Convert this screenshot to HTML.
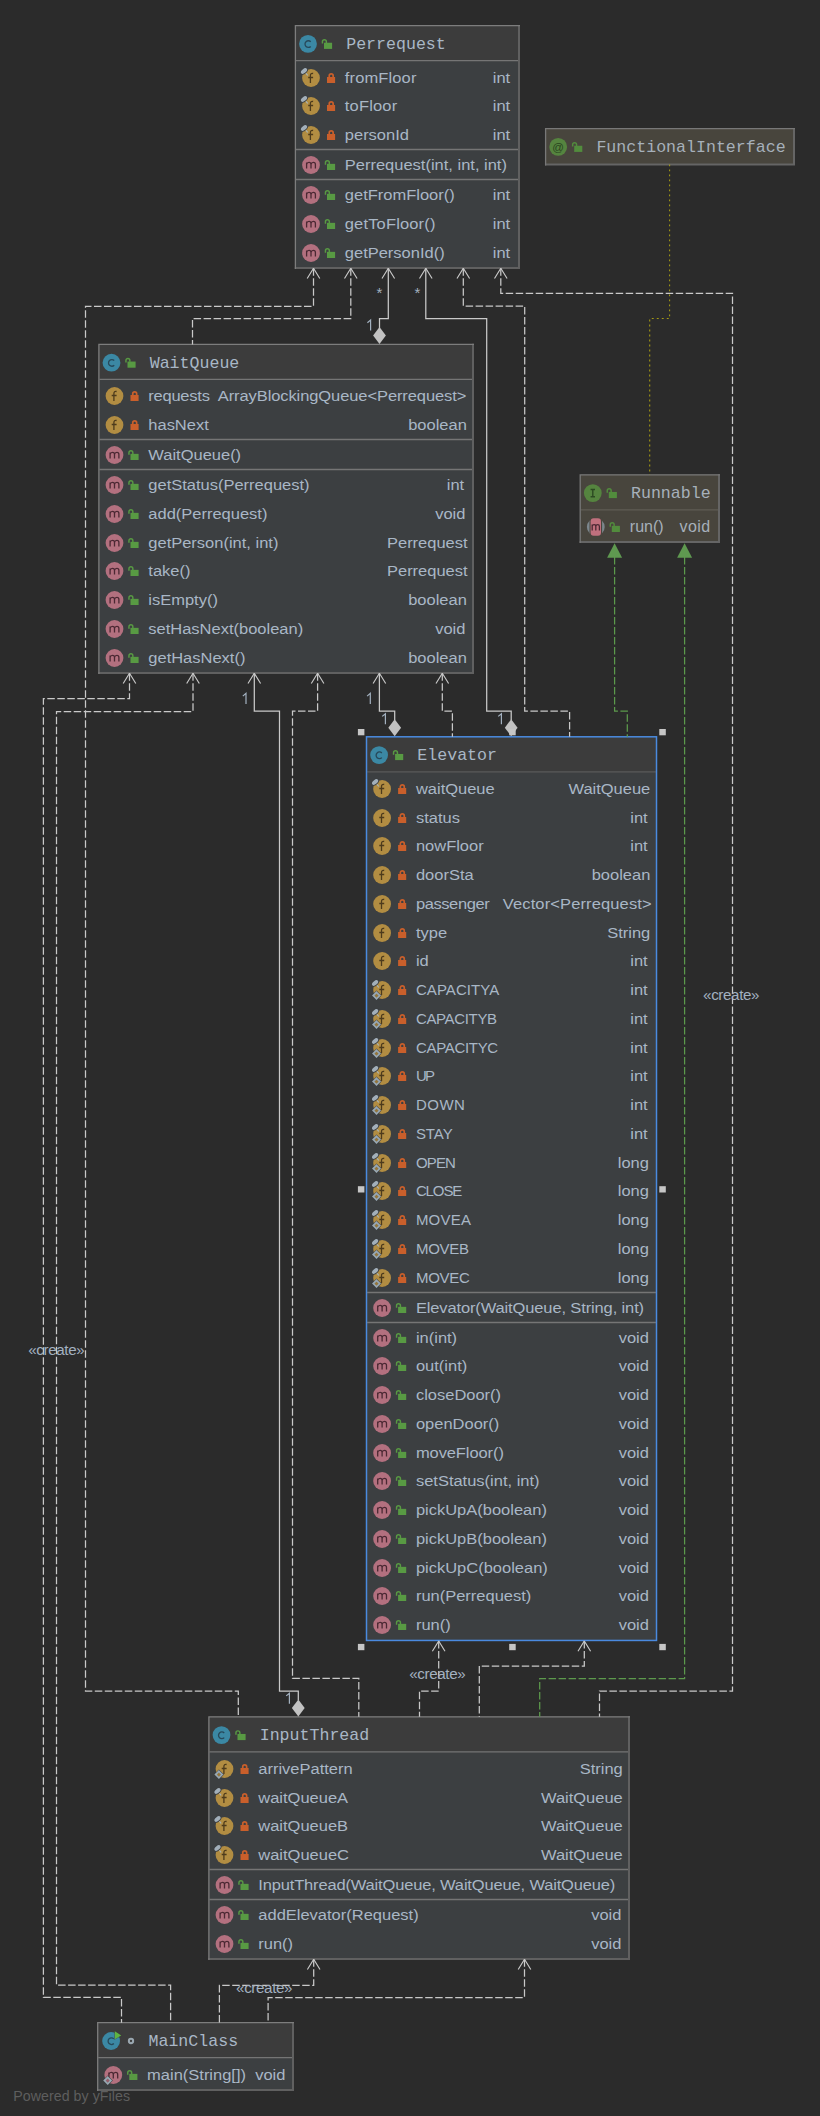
<!DOCTYPE html>
<html><head><meta charset="utf-8"><title>UML class diagram</title>
<style>
html,body{margin:0;padding:0;background:#2b2b2b;}
body{width:820px;height:2116px;overflow:hidden;font-family:"Liberation Sans",sans-serif;}
svg{display:block;}
text{white-space:pre;}
</style></head>
<body>
<svg width="820" height="2116" viewBox="0 0 820 2116">
<rect x="0" y="0" width="820" height="2116" fill="#2b2b2b"/>
<rect x="295.4" y="25.6" width="223.60" height="242.40" fill="#3c3f41"/>
<rect x="295.4" y="25.6" width="223.60" height="35" fill="#3c3c3c"/>
<line x1="296.0" x2="518.4" y1="60.60" y2="60.60" stroke="#757575" stroke-width="1.3"/>
<line x1="296.0" x2="518.4" y1="149.50" y2="149.50" stroke="#757575" stroke-width="1.3"/>
<line x1="296.0" x2="518.4" y1="179.50" y2="179.50" stroke="#757575" stroke-width="1.3"/>
<path d="M519.00 25.00 V268.00 H294.80" fill="none" stroke="#606060" stroke-width="2.0"/>
<path d="M295.40 269.00 V25.60 H520.00" fill="none" stroke="#7d7d7d" stroke-width="1.3"/>
<circle cx="308.0" cy="43.900000000000006" r="8.9" fill="#3b88a4"/>
<path d="M310.75 41.75 A3.35 3.35 0 1 0 310.75 46.45" fill="none" stroke="#27495a" stroke-width="1.3"/>
<rect x="324.00" y="42.75" width="8.1" height="6.15" fill="#589a43"/>
<path d="M322.45 43.60 V41.60 a1.95 1.95 0 0 1 3.9 0 V43.00" fill="none" stroke="#589a43" stroke-width="1.45"/>
<text x="346.20" y="49.00" font-family="Liberation Mono, monospace" font-size="16.6" fill="#a9b7c6" xml:space="preserve">Perrequest</text>
<circle cx="311.0" cy="78" r="8.9" fill="#b28d42"/>
<path d="M313.10 73.50 q-2.7 -0.7 -2.7 2.0 V82.90 M308.20 77.50 H313.10" fill="none" stroke="#4d3b1c" stroke-width="1.3"/>
<g transform="rotate(-40 304.00 71.00)"><ellipse cx="304.00" cy="71.00" rx="4.5" ry="2.9" fill="#3c3f41"/><ellipse cx="304.00" cy="71.00" rx="3.6" ry="2.0" fill="#a2afba"/><rect x="303.40" y="73.90" width="1.2" height="2.9" rx="0.5" fill="#a9b9c6" opacity="0.85"/></g>
<rect x="327.00" y="77.00" width="8.1" height="6.0" fill="#c95f2b"/>
<path d="M329.25 77.50 V75.75 a1.95 1.95 0 0 1 3.9 0 V77.50" fill="none" stroke="#c95f2b" stroke-width="1.7"/>
<text transform="translate(344.80 82.80) scale(1.1 1)" x="0" y="0" font-family="Liberation Sans, sans-serif" font-size="15" textLength="65.09" lengthAdjust="spacing" text-anchor="start" fill="#a9b7c6" >fromFloor</text>
<text transform="translate(510.20 82.80) scale(1.1 1)" x="0" y="0" font-family="Liberation Sans, sans-serif" font-size="15" letter-spacing="0" text-anchor="end" fill="#a9b7c6" >int</text>
<circle cx="311.0" cy="106" r="8.9" fill="#b28d42"/>
<path d="M313.10 101.50 q-2.7 -0.7 -2.7 2.0 V110.90 M308.20 105.50 H313.10" fill="none" stroke="#4d3b1c" stroke-width="1.3"/>
<g transform="rotate(-40 304.00 99.00)"><ellipse cx="304.00" cy="99.00" rx="4.5" ry="2.9" fill="#3c3f41"/><ellipse cx="304.00" cy="99.00" rx="3.6" ry="2.0" fill="#a2afba"/><rect x="303.40" y="101.90" width="1.2" height="2.9" rx="0.5" fill="#a9b9c6" opacity="0.85"/></g>
<rect x="327.00" y="105.00" width="8.1" height="6.0" fill="#c95f2b"/>
<path d="M329.25 105.50 V103.75 a1.95 1.95 0 0 1 3.9 0 V105.50" fill="none" stroke="#c95f2b" stroke-width="1.7"/>
<text transform="translate(344.80 110.80) scale(1.1 1)" x="0" y="0" font-family="Liberation Sans, sans-serif" font-size="15" textLength="47.64" lengthAdjust="spacing" text-anchor="start" fill="#a9b7c6" >toFloor</text>
<text transform="translate(510.20 110.80) scale(1.1 1)" x="0" y="0" font-family="Liberation Sans, sans-serif" font-size="15" letter-spacing="0" text-anchor="end" fill="#a9b7c6" >int</text>
<circle cx="311.0" cy="135" r="8.9" fill="#b28d42"/>
<path d="M313.10 130.50 q-2.7 -0.7 -2.7 2.0 V139.90 M308.20 134.50 H313.10" fill="none" stroke="#4d3b1c" stroke-width="1.3"/>
<g transform="rotate(-40 304.00 128.00)"><ellipse cx="304.00" cy="128.00" rx="4.5" ry="2.9" fill="#3c3f41"/><ellipse cx="304.00" cy="128.00" rx="3.6" ry="2.0" fill="#a2afba"/><rect x="303.40" y="130.90" width="1.2" height="2.9" rx="0.5" fill="#a9b9c6" opacity="0.85"/></g>
<rect x="327.00" y="134.00" width="8.1" height="6.0" fill="#c95f2b"/>
<path d="M329.25 134.50 V132.75 a1.95 1.95 0 0 1 3.9 0 V134.50" fill="none" stroke="#c95f2b" stroke-width="1.7"/>
<text transform="translate(344.80 139.80) scale(1.1 1)" x="0" y="0" font-family="Liberation Sans, sans-serif" font-size="15" letter-spacing="0" text-anchor="start" fill="#a9b7c6" >personId</text>
<text transform="translate(510.20 139.80) scale(1.1 1)" x="0" y="0" font-family="Liberation Sans, sans-serif" font-size="15" letter-spacing="0" text-anchor="end" fill="#a9b7c6" >int</text>
<circle cx="311.0" cy="165" r="8.9" fill="#b3707f"/>
<path d="M306.60 168.40 V162.40 M306.60 164.40 q0.4 -2 2.4 -2 q2 0 2 2 V168.40 M311.00 164.40 q0.4 -2 2.4 -2 q2 0 2 2 V168.40" fill="none" stroke="#4b2833" stroke-width="1.3"/>
<rect x="327.00" y="163.85" width="8.1" height="6.15" fill="#589a43"/>
<path d="M325.45 164.70 V162.70 a1.95 1.95 0 0 1 3.9 0 V164.10" fill="none" stroke="#589a43" stroke-width="1.45"/>
<text transform="translate(344.80 169.80) scale(1.1 1)" x="0" y="0" font-family="Liberation Sans, sans-serif" font-size="15" letter-spacing="0" text-anchor="start" fill="#a9b7c6" >Perrequest(int, int, int)</text>
<circle cx="311.0" cy="195" r="8.9" fill="#b3707f"/>
<path d="M306.60 198.40 V192.40 M306.60 194.40 q0.4 -2 2.4 -2 q2 0 2 2 V198.40 M311.00 194.40 q0.4 -2 2.4 -2 q2 0 2 2 V198.40" fill="none" stroke="#4b2833" stroke-width="1.3"/>
<rect x="327.00" y="193.85" width="8.1" height="6.15" fill="#589a43"/>
<path d="M325.45 194.70 V192.70 a1.95 1.95 0 0 1 3.9 0 V194.10" fill="none" stroke="#589a43" stroke-width="1.45"/>
<text transform="translate(344.80 199.80) scale(1.1 1)" x="0" y="0" font-family="Liberation Sans, sans-serif" font-size="15" letter-spacing="0" text-anchor="start" fill="#a9b7c6" >getFromFloor()</text>
<text transform="translate(510.20 199.80) scale(1.1 1)" x="0" y="0" font-family="Liberation Sans, sans-serif" font-size="15" letter-spacing="0" text-anchor="end" fill="#a9b7c6" >int</text>
<circle cx="311.0" cy="224" r="8.9" fill="#b3707f"/>
<path d="M306.60 227.40 V221.40 M306.60 223.40 q0.4 -2 2.4 -2 q2 0 2 2 V227.40 M311.00 223.40 q0.4 -2 2.4 -2 q2 0 2 2 V227.40" fill="none" stroke="#4b2833" stroke-width="1.3"/>
<rect x="327.00" y="222.85" width="8.1" height="6.15" fill="#589a43"/>
<path d="M325.45 223.70 V221.70 a1.95 1.95 0 0 1 3.9 0 V223.10" fill="none" stroke="#589a43" stroke-width="1.45"/>
<text transform="translate(344.80 228.80) scale(1.1 1)" x="0" y="0" font-family="Liberation Sans, sans-serif" font-size="15" textLength="82.36" lengthAdjust="spacing" text-anchor="start" fill="#a9b7c6" >getToFloor()</text>
<text transform="translate(510.20 228.80) scale(1.1 1)" x="0" y="0" font-family="Liberation Sans, sans-serif" font-size="15" letter-spacing="0" text-anchor="end" fill="#a9b7c6" >int</text>
<circle cx="311.0" cy="253" r="8.9" fill="#b3707f"/>
<path d="M306.60 256.40 V250.40 M306.60 252.40 q0.4 -2 2.4 -2 q2 0 2 2 V256.40 M311.00 252.40 q0.4 -2 2.4 -2 q2 0 2 2 V256.40" fill="none" stroke="#4b2833" stroke-width="1.3"/>
<rect x="327.00" y="251.85" width="8.1" height="6.15" fill="#589a43"/>
<path d="M325.45 252.70 V250.70 a1.95 1.95 0 0 1 3.9 0 V252.10" fill="none" stroke="#589a43" stroke-width="1.45"/>
<text transform="translate(344.80 257.80) scale(1.1 1)" x="0" y="0" font-family="Liberation Sans, sans-serif" font-size="15" letter-spacing="0" text-anchor="start" fill="#a9b7c6" >getPersonId()</text>
<text transform="translate(510.20 257.80) scale(1.1 1)" x="0" y="0" font-family="Liberation Sans, sans-serif" font-size="15" letter-spacing="0" text-anchor="end" fill="#a9b7c6" >int</text>
<rect x="545.6" y="128.6" width="248.40" height="35.80" fill="#48453d"/>
<rect x="545.6" y="128.6" width="248.40" height="35" fill="#48453d"/>
<path d="M794.00 128.00 V164.40 H545.00" fill="none" stroke="#656565" stroke-width="2.0"/>
<path d="M545.60 165.40 V128.60 H795.00" fill="none" stroke="#787878" stroke-width="1.3"/>
<circle cx="558.2" cy="146.9" r="8.9" fill="#55843f"/>
<text x="558.2" y="150.50" font-size="11.5" text-anchor="middle" fill="#2a4520" font-family="Liberation Sans, sans-serif">@</text>
<rect x="574.20" y="145.75" width="8.1" height="6.15" fill="#528c3d"/>
<path d="M572.65 146.60 V144.60 a1.95 1.95 0 0 1 3.9 0 V146.00" fill="none" stroke="#528c3d" stroke-width="1.45"/>
<text x="596.40" y="152.00" font-family="Liberation Mono, monospace" font-size="16.6" fill="#a6b0ba" xml:space="preserve">FunctionalInterface</text>
<rect x="580.2" y="474.8" width="138.80" height="67.20" fill="#48453d"/>
<rect x="580.2" y="474.8" width="138.80" height="35" fill="#48453d"/>
<line x1="580.8000000000001" x2="718.4" y1="509.80" y2="509.80" stroke="#5f5c54" stroke-width="1.3"/>
<path d="M719.00 474.20 V542.00 H579.60" fill="none" stroke="#656565" stroke-width="2.0"/>
<path d="M580.20 543.00 V474.80 H720.00" fill="none" stroke="#787878" stroke-width="1.3"/>
<circle cx="592.8000000000001" cy="493.1" r="8.9" fill="#55843f"/>
<path d="M590.60 489.50 H595.00 M590.60 496.70 H595.00 M592.80 489.50 V496.70" fill="none" stroke="#2c4a22" stroke-width="1.4"/>
<rect x="608.80" y="491.95" width="8.1" height="6.15" fill="#528c3d"/>
<path d="M607.25 492.80 V490.80 a1.95 1.95 0 0 1 3.9 0 V492.20" fill="none" stroke="#528c3d" stroke-width="1.45"/>
<text x="631.00" y="498.20" font-family="Liberation Mono, monospace" font-size="16.6" fill="#a6b0ba" xml:space="preserve">Runnable</text>
<circle cx="595.8000000000001" cy="527" r="8.9" fill="#7c878d"/>
<rect x="589.50" y="517.40" width="12.6" height="19.2" fill="#48453d"/>
<rect x="590.60" y="518.20" width="10.4" height="17.6" rx="3" fill="#c0707d"/>
<path d="M592.20 530.40 V524.60 M592.20 526.20 q0.3 -1.6 1.9 -1.6 q1.7 0 1.7 1.8 V530.40 M595.80 526.20 q0.3 -1.6 1.9 -1.6 q1.7 0 1.7 1.8 V530.40" fill="none" stroke="#4b2833" stroke-width="1.3"/>
<rect x="611.80" y="525.85" width="8.1" height="6.15" fill="#528c3d"/>
<path d="M610.25 526.70 V524.70 a1.95 1.95 0 0 1 3.9 0 V526.10" fill="none" stroke="#528c3d" stroke-width="1.45"/>
<text x="629.80" y="531.90" font-family="Liberation Sans, sans-serif" font-size="16" letter-spacing="0" text-anchor="start" fill="#a6b0ba" >run()</text>
<text x="710.70" y="531.90" font-family="Liberation Sans, sans-serif" font-size="16" letter-spacing="0.45" text-anchor="end" fill="#a6b0ba" >void</text>
<rect x="98.9" y="344.4" width="374.10" height="328.60" fill="#3c3f41"/>
<rect x="98.9" y="344.4" width="374.10" height="35" fill="#3c3c3c"/>
<line x1="99.5" x2="472.4" y1="379.40" y2="379.40" stroke="#757575" stroke-width="1.3"/>
<line x1="99.5" x2="472.4" y1="439.50" y2="439.50" stroke="#757575" stroke-width="1.3"/>
<line x1="99.5" x2="472.4" y1="469.50" y2="469.50" stroke="#757575" stroke-width="1.3"/>
<path d="M473.00 343.80 V673.00 H98.30" fill="none" stroke="#606060" stroke-width="2.0"/>
<path d="M98.90 674.00 V344.40 H474.00" fill="none" stroke="#7d7d7d" stroke-width="1.3"/>
<circle cx="111.5" cy="362.7" r="8.9" fill="#3b88a4"/>
<path d="M114.25 360.55 A3.35 3.35 0 1 0 114.25 365.25" fill="none" stroke="#27495a" stroke-width="1.3"/>
<rect x="127.50" y="361.55" width="8.1" height="6.15" fill="#589a43"/>
<path d="M125.95 362.40 V360.40 a1.95 1.95 0 0 1 3.9 0 V361.80" fill="none" stroke="#589a43" stroke-width="1.45"/>
<text x="149.70" y="367.80" font-family="Liberation Mono, monospace" font-size="16.6" fill="#a9b7c6" xml:space="preserve">WaitQueue</text>
<circle cx="114.5" cy="396" r="8.9" fill="#b28d42"/>
<path d="M116.60 391.50 q-2.7 -0.7 -2.7 2.0 V400.90 M111.70 395.50 H116.60" fill="none" stroke="#4d3b1c" stroke-width="1.3"/>
<rect x="130.50" y="395.00" width="8.1" height="6.0" fill="#c95f2b"/>
<path d="M132.75 395.50 V393.75 a1.95 1.95 0 0 1 3.9 0 V395.50" fill="none" stroke="#c95f2b" stroke-width="1.7"/>
<text transform="translate(148.30 400.80) scale(1.1 1)" x="0" y="0" font-family="Liberation Sans, sans-serif" font-size="15" textLength="56.00" lengthAdjust="spacing" text-anchor="start" fill="#a9b7c6" >requests</text>
<text transform="translate(217.80 400.80) scale(1.1 1)" x="0" y="0" font-family="Liberation Sans, sans-serif" font-size="15" textLength="226.00" lengthAdjust="spacing" text-anchor="start" fill="#a9b7c6" >ArrayBlockingQueue&lt;Perrequest&gt;</text>
<circle cx="114.5" cy="425" r="8.9" fill="#b28d42"/>
<path d="M116.60 420.50 q-2.7 -0.7 -2.7 2.0 V429.90 M111.70 424.50 H116.60" fill="none" stroke="#4d3b1c" stroke-width="1.3"/>
<rect x="130.50" y="424.00" width="8.1" height="6.0" fill="#c95f2b"/>
<path d="M132.75 424.50 V422.75 a1.95 1.95 0 0 1 3.9 0 V424.50" fill="none" stroke="#c95f2b" stroke-width="1.7"/>
<text transform="translate(148.30 429.80) scale(1.1 1)" x="0" y="0" font-family="Liberation Sans, sans-serif" font-size="15" letter-spacing="0" text-anchor="start" fill="#a9b7c6" >hasNext</text>
<text transform="translate(466.80 429.80) scale(1.1 1)" x="0" y="0" font-family="Liberation Sans, sans-serif" font-size="15" letter-spacing="0" text-anchor="end" fill="#a9b7c6" >boolean</text>
<circle cx="114.5" cy="455" r="8.9" fill="#b3707f"/>
<path d="M110.10 458.40 V452.40 M110.10 454.40 q0.4 -2 2.4 -2 q2 0 2 2 V458.40 M114.50 454.40 q0.4 -2 2.4 -2 q2 0 2 2 V458.40" fill="none" stroke="#4b2833" stroke-width="1.3"/>
<rect x="130.50" y="453.85" width="8.1" height="6.15" fill="#589a43"/>
<path d="M128.95 454.70 V452.70 a1.95 1.95 0 0 1 3.9 0 V454.10" fill="none" stroke="#589a43" stroke-width="1.45"/>
<text transform="translate(148.30 459.80) scale(1.1 1)" x="0" y="0" font-family="Liberation Sans, sans-serif" font-size="15" letter-spacing="0" text-anchor="start" fill="#a9b7c6" >WaitQueue()</text>
<circle cx="114.5" cy="485" r="8.9" fill="#b3707f"/>
<path d="M110.10 488.40 V482.40 M110.10 484.40 q0.4 -2 2.4 -2 q2 0 2 2 V488.40 M114.50 484.40 q0.4 -2 2.4 -2 q2 0 2 2 V488.40" fill="none" stroke="#4b2833" stroke-width="1.3"/>
<rect x="130.50" y="483.85" width="8.1" height="6.15" fill="#589a43"/>
<path d="M128.95 484.70 V482.70 a1.95 1.95 0 0 1 3.9 0 V484.10" fill="none" stroke="#589a43" stroke-width="1.45"/>
<text transform="translate(148.30 489.80) scale(1.1 1)" x="0" y="0" font-family="Liberation Sans, sans-serif" font-size="15" letter-spacing="0" text-anchor="start" fill="#a9b7c6" >getStatus(Perrequest)</text>
<text transform="translate(464.20 489.80) scale(1.1 1)" x="0" y="0" font-family="Liberation Sans, sans-serif" font-size="15" letter-spacing="0" text-anchor="end" fill="#a9b7c6" >int</text>
<circle cx="114.5" cy="514" r="8.9" fill="#b3707f"/>
<path d="M110.10 517.40 V511.40 M110.10 513.40 q0.4 -2 2.4 -2 q2 0 2 2 V517.40 M114.50 513.40 q0.4 -2 2.4 -2 q2 0 2 2 V517.40" fill="none" stroke="#4b2833" stroke-width="1.3"/>
<rect x="130.50" y="512.85" width="8.1" height="6.15" fill="#589a43"/>
<path d="M128.95 513.70 V511.70 a1.95 1.95 0 0 1 3.9 0 V513.10" fill="none" stroke="#589a43" stroke-width="1.45"/>
<text transform="translate(148.30 518.80) scale(1.1 1)" x="0" y="0" font-family="Liberation Sans, sans-serif" font-size="15" letter-spacing="0" text-anchor="start" fill="#a9b7c6" >add(Perrequest)</text>
<text transform="translate(465.40 518.80) scale(1.1 1)" x="0" y="0" font-family="Liberation Sans, sans-serif" font-size="15" letter-spacing="0" text-anchor="end" fill="#a9b7c6" >void</text>
<circle cx="114.5" cy="543" r="8.9" fill="#b3707f"/>
<path d="M110.10 546.40 V540.40 M110.10 542.40 q0.4 -2 2.4 -2 q2 0 2 2 V546.40 M114.50 542.40 q0.4 -2 2.4 -2 q2 0 2 2 V546.40" fill="none" stroke="#4b2833" stroke-width="1.3"/>
<rect x="130.50" y="541.85" width="8.1" height="6.15" fill="#589a43"/>
<path d="M128.95 542.70 V540.70 a1.95 1.95 0 0 1 3.9 0 V542.10" fill="none" stroke="#589a43" stroke-width="1.45"/>
<text transform="translate(148.30 547.80) scale(1.1 1)" x="0" y="0" font-family="Liberation Sans, sans-serif" font-size="15" letter-spacing="0" text-anchor="start" fill="#a9b7c6" >getPerson(int, int)</text>
<text transform="translate(467.60 547.80) scale(1.1 1)" x="0" y="0" font-family="Liberation Sans, sans-serif" font-size="15" letter-spacing="0" text-anchor="end" fill="#a9b7c6" >Perrequest</text>
<circle cx="114.5" cy="571" r="8.9" fill="#b3707f"/>
<path d="M110.10 574.40 V568.40 M110.10 570.40 q0.4 -2 2.4 -2 q2 0 2 2 V574.40 M114.50 570.40 q0.4 -2 2.4 -2 q2 0 2 2 V574.40" fill="none" stroke="#4b2833" stroke-width="1.3"/>
<rect x="130.50" y="569.85" width="8.1" height="6.15" fill="#589a43"/>
<path d="M128.95 570.70 V568.70 a1.95 1.95 0 0 1 3.9 0 V570.10" fill="none" stroke="#589a43" stroke-width="1.45"/>
<text transform="translate(148.30 575.80) scale(1.1 1)" x="0" y="0" font-family="Liberation Sans, sans-serif" font-size="15" letter-spacing="0" text-anchor="start" fill="#a9b7c6" >take()</text>
<text transform="translate(467.60 575.80) scale(1.1 1)" x="0" y="0" font-family="Liberation Sans, sans-serif" font-size="15" letter-spacing="0" text-anchor="end" fill="#a9b7c6" >Perrequest</text>
<circle cx="114.5" cy="600" r="8.9" fill="#b3707f"/>
<path d="M110.10 603.40 V597.40 M110.10 599.40 q0.4 -2 2.4 -2 q2 0 2 2 V603.40 M114.50 599.40 q0.4 -2 2.4 -2 q2 0 2 2 V603.40" fill="none" stroke="#4b2833" stroke-width="1.3"/>
<rect x="130.50" y="598.85" width="8.1" height="6.15" fill="#589a43"/>
<path d="M128.95 599.70 V597.70 a1.95 1.95 0 0 1 3.9 0 V599.10" fill="none" stroke="#589a43" stroke-width="1.45"/>
<text transform="translate(148.30 604.80) scale(1.1 1)" x="0" y="0" font-family="Liberation Sans, sans-serif" font-size="15" letter-spacing="0" text-anchor="start" fill="#a9b7c6" >isEmpty()</text>
<text transform="translate(466.80 604.80) scale(1.1 1)" x="0" y="0" font-family="Liberation Sans, sans-serif" font-size="15" letter-spacing="0" text-anchor="end" fill="#a9b7c6" >boolean</text>
<circle cx="114.5" cy="629" r="8.9" fill="#b3707f"/>
<path d="M110.10 632.40 V626.40 M110.10 628.40 q0.4 -2 2.4 -2 q2 0 2 2 V632.40 M114.50 628.40 q0.4 -2 2.4 -2 q2 0 2 2 V632.40" fill="none" stroke="#4b2833" stroke-width="1.3"/>
<rect x="130.50" y="627.85" width="8.1" height="6.15" fill="#589a43"/>
<path d="M128.95 628.70 V626.70 a1.95 1.95 0 0 1 3.9 0 V628.10" fill="none" stroke="#589a43" stroke-width="1.45"/>
<text transform="translate(148.30 633.80) scale(1.1 1)" x="0" y="0" font-family="Liberation Sans, sans-serif" font-size="15" letter-spacing="0" text-anchor="start" fill="#a9b7c6" >setHasNext(boolean)</text>
<text transform="translate(465.40 633.80) scale(1.1 1)" x="0" y="0" font-family="Liberation Sans, sans-serif" font-size="15" letter-spacing="0" text-anchor="end" fill="#a9b7c6" >void</text>
<circle cx="114.5" cy="658" r="8.9" fill="#b3707f"/>
<path d="M110.10 661.40 V655.40 M110.10 657.40 q0.4 -2 2.4 -2 q2 0 2 2 V661.40 M114.50 657.40 q0.4 -2 2.4 -2 q2 0 2 2 V661.40" fill="none" stroke="#4b2833" stroke-width="1.3"/>
<rect x="130.50" y="656.85" width="8.1" height="6.15" fill="#589a43"/>
<path d="M128.95 657.70 V655.70 a1.95 1.95 0 0 1 3.9 0 V657.10" fill="none" stroke="#589a43" stroke-width="1.45"/>
<text transform="translate(148.30 662.80) scale(1.1 1)" x="0" y="0" font-family="Liberation Sans, sans-serif" font-size="15" letter-spacing="0" text-anchor="start" fill="#a9b7c6" >getHasNext()</text>
<text transform="translate(466.80 662.80) scale(1.1 1)" x="0" y="0" font-family="Liberation Sans, sans-serif" font-size="15" letter-spacing="0" text-anchor="end" fill="#a9b7c6" >boolean</text>
<rect x="366.5" y="736.8" width="290.00" height="903.65" fill="#3c3f41"/>
<rect x="366.5" y="736.8" width="290.00" height="35" fill="#3c3c3c"/>
<line x1="367.1" x2="655.9" y1="771.80" y2="771.80" stroke="#5a5a5a" stroke-width="1.3"/>
<line x1="367.1" x2="655.9" y1="1292.50" y2="1292.50" stroke="#757575" stroke-width="1.3"/>
<line x1="367.1" x2="655.9" y1="1322.50" y2="1322.50" stroke="#757575" stroke-width="1.3"/>
<rect x="366.5" y="736.8" width="290.00" height="903.65" fill="none" stroke="#4a8adf" stroke-width="1.5"/>
<circle cx="379.1" cy="755.0999999999999" r="8.9" fill="#3b88a4"/>
<path d="M381.85 752.95 A3.35 3.35 0 1 0 381.85 757.65" fill="none" stroke="#27495a" stroke-width="1.3"/>
<rect x="395.10" y="753.95" width="8.1" height="6.15" fill="#589a43"/>
<path d="M393.55 754.80 V752.80 a1.95 1.95 0 0 1 3.9 0 V754.20" fill="none" stroke="#589a43" stroke-width="1.45"/>
<text x="417.30" y="760.20" font-family="Liberation Mono, monospace" font-size="16.6" fill="#a9b7c6" xml:space="preserve">Elevator</text>
<circle cx="382.1" cy="789" r="8.9" fill="#b28d42"/>
<path d="M384.20 784.50 q-2.7 -0.7 -2.7 2.0 V793.90 M379.30 788.50 H384.20" fill="none" stroke="#4d3b1c" stroke-width="1.3"/>
<g transform="rotate(-40 375.10 782.00)"><ellipse cx="375.10" cy="782.00" rx="4.5" ry="2.9" fill="#3c3f41"/><ellipse cx="375.10" cy="782.00" rx="3.6" ry="2.0" fill="#a2afba"/><rect x="374.50" y="784.90" width="1.2" height="2.9" rx="0.5" fill="#a9b9c6" opacity="0.85"/></g>
<rect x="398.10" y="788.00" width="8.1" height="6.0" fill="#c95f2b"/>
<path d="M400.35 788.50 V786.75 a1.95 1.95 0 0 1 3.9 0 V788.50" fill="none" stroke="#c95f2b" stroke-width="1.7"/>
<text transform="translate(415.90 793.80) scale(1.1 1)" x="0" y="0" font-family="Liberation Sans, sans-serif" font-size="15" letter-spacing="0" text-anchor="start" fill="#a9b7c6" >waitQueue</text>
<text transform="translate(650.30 793.80) scale(1.1 1)" x="0" y="0" font-family="Liberation Sans, sans-serif" font-size="15" letter-spacing="0" text-anchor="end" fill="#a9b7c6" >WaitQueue</text>
<circle cx="382.1" cy="818" r="8.9" fill="#b28d42"/>
<path d="M384.20 813.50 q-2.7 -0.7 -2.7 2.0 V822.90 M379.30 817.50 H384.20" fill="none" stroke="#4d3b1c" stroke-width="1.3"/>
<rect x="398.10" y="817.00" width="8.1" height="6.0" fill="#c95f2b"/>
<path d="M400.35 817.50 V815.75 a1.95 1.95 0 0 1 3.9 0 V817.50" fill="none" stroke="#c95f2b" stroke-width="1.7"/>
<text transform="translate(415.90 822.80) scale(1.1 1)" x="0" y="0" font-family="Liberation Sans, sans-serif" font-size="15" letter-spacing="0" text-anchor="start" fill="#a9b7c6" >status</text>
<text transform="translate(647.70 822.80) scale(1.1 1)" x="0" y="0" font-family="Liberation Sans, sans-serif" font-size="15" letter-spacing="0" text-anchor="end" fill="#a9b7c6" >int</text>
<circle cx="382.1" cy="846" r="8.9" fill="#b28d42"/>
<path d="M384.20 841.50 q-2.7 -0.7 -2.7 2.0 V850.90 M379.30 845.50 H384.20" fill="none" stroke="#4d3b1c" stroke-width="1.3"/>
<rect x="398.10" y="845.00" width="8.1" height="6.0" fill="#c95f2b"/>
<path d="M400.35 845.50 V843.75 a1.95 1.95 0 0 1 3.9 0 V845.50" fill="none" stroke="#c95f2b" stroke-width="1.7"/>
<text transform="translate(415.90 850.80) scale(1.1 1)" x="0" y="0" font-family="Liberation Sans, sans-serif" font-size="15" textLength="61.64" lengthAdjust="spacing" text-anchor="start" fill="#a9b7c6" >nowFloor</text>
<text transform="translate(647.70 850.80) scale(1.1 1)" x="0" y="0" font-family="Liberation Sans, sans-serif" font-size="15" letter-spacing="0" text-anchor="end" fill="#a9b7c6" >int</text>
<circle cx="382.1" cy="875" r="8.9" fill="#b28d42"/>
<path d="M384.20 870.50 q-2.7 -0.7 -2.7 2.0 V879.90 M379.30 874.50 H384.20" fill="none" stroke="#4d3b1c" stroke-width="1.3"/>
<rect x="398.10" y="874.00" width="8.1" height="6.0" fill="#c95f2b"/>
<path d="M400.35 874.50 V872.75 a1.95 1.95 0 0 1 3.9 0 V874.50" fill="none" stroke="#c95f2b" stroke-width="1.7"/>
<text transform="translate(415.90 879.80) scale(1.1 1)" x="0" y="0" font-family="Liberation Sans, sans-serif" font-size="15" letter-spacing="0" text-anchor="start" fill="#a9b7c6" >doorSta</text>
<text transform="translate(650.30 879.80) scale(1.1 1)" x="0" y="0" font-family="Liberation Sans, sans-serif" font-size="15" letter-spacing="0" text-anchor="end" fill="#a9b7c6" >boolean</text>
<circle cx="382.1" cy="904" r="8.9" fill="#b28d42"/>
<path d="M384.20 899.50 q-2.7 -0.7 -2.7 2.0 V908.90 M379.30 903.50 H384.20" fill="none" stroke="#4d3b1c" stroke-width="1.3"/>
<rect x="398.10" y="903.00" width="8.1" height="6.0" fill="#c95f2b"/>
<path d="M400.35 903.50 V901.75 a1.95 1.95 0 0 1 3.9 0 V903.50" fill="none" stroke="#c95f2b" stroke-width="1.7"/>
<text transform="translate(415.90 908.80) scale(1.1 1)" x="0" y="0" font-family="Liberation Sans, sans-serif" font-size="15" textLength="67.09" lengthAdjust="spacing" text-anchor="start" fill="#a9b7c6" >passenger</text>
<text transform="translate(502.80 908.80) scale(1.1 1)" x="0" y="0" font-family="Liberation Sans, sans-serif" font-size="15" textLength="135.27" lengthAdjust="spacing" text-anchor="start" fill="#a9b7c6" >Vector&lt;Perrequest&gt;</text>
<circle cx="382.1" cy="933" r="8.9" fill="#b28d42"/>
<path d="M384.20 928.50 q-2.7 -0.7 -2.7 2.0 V937.90 M379.30 932.50 H384.20" fill="none" stroke="#4d3b1c" stroke-width="1.3"/>
<rect x="398.10" y="932.00" width="8.1" height="6.0" fill="#c95f2b"/>
<path d="M400.35 932.50 V930.75 a1.95 1.95 0 0 1 3.9 0 V932.50" fill="none" stroke="#c95f2b" stroke-width="1.7"/>
<text transform="translate(415.90 937.80) scale(1.1 1)" x="0" y="0" font-family="Liberation Sans, sans-serif" font-size="15" letter-spacing="0" text-anchor="start" fill="#a9b7c6" >type</text>
<text transform="translate(650.30 937.80) scale(1.1 1)" x="0" y="0" font-family="Liberation Sans, sans-serif" font-size="15" letter-spacing="0" text-anchor="end" fill="#a9b7c6" >String</text>
<circle cx="382.1" cy="961" r="8.9" fill="#b28d42"/>
<path d="M384.20 956.50 q-2.7 -0.7 -2.7 2.0 V965.90 M379.30 960.50 H384.20" fill="none" stroke="#4d3b1c" stroke-width="1.3"/>
<rect x="398.10" y="960.00" width="8.1" height="6.0" fill="#c95f2b"/>
<path d="M400.35 960.50 V958.75 a1.95 1.95 0 0 1 3.9 0 V960.50" fill="none" stroke="#c95f2b" stroke-width="1.7"/>
<text transform="translate(415.90 965.80) scale(1.1 1)" x="0" y="0" font-family="Liberation Sans, sans-serif" font-size="15" letter-spacing="0" text-anchor="start" fill="#a9b7c6" >id</text>
<text transform="translate(647.70 965.80) scale(1.1 1)" x="0" y="0" font-family="Liberation Sans, sans-serif" font-size="15" letter-spacing="0" text-anchor="end" fill="#a9b7c6" >int</text>
<circle cx="382.1" cy="990" r="8.9" fill="#b28d42"/>
<path d="M384.20 985.50 q-2.7 -0.7 -2.7 2.0 V994.90 M379.30 989.50 H384.20" fill="none" stroke="#4d3b1c" stroke-width="1.3"/>
<g transform="rotate(-40 375.10 983.00)"><ellipse cx="375.10" cy="983.00" rx="4.5" ry="2.9" fill="#3c3f41"/><ellipse cx="375.10" cy="983.00" rx="3.6" ry="2.0" fill="#a2afba"/><rect x="374.50" y="985.90" width="1.2" height="2.9" rx="0.5" fill="#a9b9c6" opacity="0.85"/></g>
<path d="M376.50 990.50 L381.60 995.60 L376.50 1000.70 L371.40 995.60 Z" fill="#3c3f41"/>
<path d="M376.50 993.20 L378.90 995.60 L376.50 998.00 L374.10 995.60 Z" fill="#a07c3a" opacity="0.9"/>
<path d="M376.50 992.35 L379.75 995.60 L376.50 998.85 L373.25 995.60 Z" fill="none" stroke="#99a8b3" stroke-width="1.75"/>
<rect x="398.10" y="989.00" width="8.1" height="6.0" fill="#c95f2b"/>
<path d="M400.35 989.50 V987.75 a1.95 1.95 0 0 1 3.9 0 V989.50" fill="none" stroke="#c95f2b" stroke-width="1.7"/>
<text x="415.90" y="994.80" font-family="Liberation Sans, sans-serif" font-size="15" textLength="83.40" lengthAdjust="spacing" text-anchor="start" fill="#a9b7c6" >CAPACITYA</text>
<text transform="translate(647.70 994.80) scale(1.1 1)" x="0" y="0" font-family="Liberation Sans, sans-serif" font-size="15" letter-spacing="0" text-anchor="end" fill="#a9b7c6" >int</text>
<circle cx="382.1" cy="1019" r="8.9" fill="#b28d42"/>
<path d="M384.20 1014.50 q-2.7 -0.7 -2.7 2.0 V1023.90 M379.30 1018.50 H384.20" fill="none" stroke="#4d3b1c" stroke-width="1.3"/>
<g transform="rotate(-40 375.10 1012.00)"><ellipse cx="375.10" cy="1012.00" rx="4.5" ry="2.9" fill="#3c3f41"/><ellipse cx="375.10" cy="1012.00" rx="3.6" ry="2.0" fill="#a2afba"/><rect x="374.50" y="1014.90" width="1.2" height="2.9" rx="0.5" fill="#a9b9c6" opacity="0.85"/></g>
<path d="M376.50 1019.50 L381.60 1024.60 L376.50 1029.70 L371.40 1024.60 Z" fill="#3c3f41"/>
<path d="M376.50 1022.20 L378.90 1024.60 L376.50 1027.00 L374.10 1024.60 Z" fill="#a07c3a" opacity="0.9"/>
<path d="M376.50 1021.35 L379.75 1024.60 L376.50 1027.85 L373.25 1024.60 Z" fill="none" stroke="#99a8b3" stroke-width="1.75"/>
<rect x="398.10" y="1018.00" width="8.1" height="6.0" fill="#c95f2b"/>
<path d="M400.35 1018.50 V1016.75 a1.95 1.95 0 0 1 3.9 0 V1018.50" fill="none" stroke="#c95f2b" stroke-width="1.7"/>
<text x="415.90" y="1023.80" font-family="Liberation Sans, sans-serif" font-size="15" textLength="81.20" lengthAdjust="spacing" text-anchor="start" fill="#a9b7c6" >CAPACITYB</text>
<text transform="translate(647.70 1023.80) scale(1.1 1)" x="0" y="0" font-family="Liberation Sans, sans-serif" font-size="15" letter-spacing="0" text-anchor="end" fill="#a9b7c6" >int</text>
<circle cx="382.1" cy="1048" r="8.9" fill="#b28d42"/>
<path d="M384.20 1043.50 q-2.7 -0.7 -2.7 2.0 V1052.90 M379.30 1047.50 H384.20" fill="none" stroke="#4d3b1c" stroke-width="1.3"/>
<g transform="rotate(-40 375.10 1041.00)"><ellipse cx="375.10" cy="1041.00" rx="4.5" ry="2.9" fill="#3c3f41"/><ellipse cx="375.10" cy="1041.00" rx="3.6" ry="2.0" fill="#a2afba"/><rect x="374.50" y="1043.90" width="1.2" height="2.9" rx="0.5" fill="#a9b9c6" opacity="0.85"/></g>
<path d="M376.50 1048.50 L381.60 1053.60 L376.50 1058.70 L371.40 1053.60 Z" fill="#3c3f41"/>
<path d="M376.50 1051.20 L378.90 1053.60 L376.50 1056.00 L374.10 1053.60 Z" fill="#a07c3a" opacity="0.9"/>
<path d="M376.50 1050.35 L379.75 1053.60 L376.50 1056.85 L373.25 1053.60 Z" fill="none" stroke="#99a8b3" stroke-width="1.75"/>
<rect x="398.10" y="1047.00" width="8.1" height="6.0" fill="#c95f2b"/>
<path d="M400.35 1047.50 V1045.75 a1.95 1.95 0 0 1 3.9 0 V1047.50" fill="none" stroke="#c95f2b" stroke-width="1.7"/>
<text x="415.90" y="1052.80" font-family="Liberation Sans, sans-serif" font-size="15" textLength="82.30" lengthAdjust="spacing" text-anchor="start" fill="#a9b7c6" >CAPACITYC</text>
<text transform="translate(647.70 1052.80) scale(1.1 1)" x="0" y="0" font-family="Liberation Sans, sans-serif" font-size="15" letter-spacing="0" text-anchor="end" fill="#a9b7c6" >int</text>
<circle cx="382.1" cy="1076" r="8.9" fill="#b28d42"/>
<path d="M384.20 1071.50 q-2.7 -0.7 -2.7 2.0 V1080.90 M379.30 1075.50 H384.20" fill="none" stroke="#4d3b1c" stroke-width="1.3"/>
<g transform="rotate(-40 375.10 1069.00)"><ellipse cx="375.10" cy="1069.00" rx="4.5" ry="2.9" fill="#3c3f41"/><ellipse cx="375.10" cy="1069.00" rx="3.6" ry="2.0" fill="#a2afba"/><rect x="374.50" y="1071.90" width="1.2" height="2.9" rx="0.5" fill="#a9b9c6" opacity="0.85"/></g>
<path d="M376.50 1076.50 L381.60 1081.60 L376.50 1086.70 L371.40 1081.60 Z" fill="#3c3f41"/>
<path d="M376.50 1079.20 L378.90 1081.60 L376.50 1084.00 L374.10 1081.60 Z" fill="#a07c3a" opacity="0.9"/>
<path d="M376.50 1078.35 L379.75 1081.60 L376.50 1084.85 L373.25 1081.60 Z" fill="none" stroke="#99a8b3" stroke-width="1.75"/>
<rect x="398.10" y="1075.00" width="8.1" height="6.0" fill="#c95f2b"/>
<path d="M400.35 1075.50 V1073.75 a1.95 1.95 0 0 1 3.9 0 V1075.50" fill="none" stroke="#c95f2b" stroke-width="1.7"/>
<text x="415.90" y="1080.80" font-family="Liberation Sans, sans-serif" font-size="15" textLength="19.20" lengthAdjust="spacing" text-anchor="start" fill="#a9b7c6" >UP</text>
<text transform="translate(647.70 1080.80) scale(1.1 1)" x="0" y="0" font-family="Liberation Sans, sans-serif" font-size="15" letter-spacing="0" text-anchor="end" fill="#a9b7c6" >int</text>
<circle cx="382.1" cy="1105" r="8.9" fill="#b28d42"/>
<path d="M384.20 1100.50 q-2.7 -0.7 -2.7 2.0 V1109.90 M379.30 1104.50 H384.20" fill="none" stroke="#4d3b1c" stroke-width="1.3"/>
<g transform="rotate(-40 375.10 1098.00)"><ellipse cx="375.10" cy="1098.00" rx="4.5" ry="2.9" fill="#3c3f41"/><ellipse cx="375.10" cy="1098.00" rx="3.6" ry="2.0" fill="#a2afba"/><rect x="374.50" y="1100.90" width="1.2" height="2.9" rx="0.5" fill="#a9b9c6" opacity="0.85"/></g>
<path d="M376.50 1105.50 L381.60 1110.60 L376.50 1115.70 L371.40 1110.60 Z" fill="#3c3f41"/>
<path d="M376.50 1108.20 L378.90 1110.60 L376.50 1113.00 L374.10 1110.60 Z" fill="#a07c3a" opacity="0.9"/>
<path d="M376.50 1107.35 L379.75 1110.60 L376.50 1113.85 L373.25 1110.60 Z" fill="none" stroke="#99a8b3" stroke-width="1.75"/>
<rect x="398.10" y="1104.00" width="8.1" height="6.0" fill="#c95f2b"/>
<path d="M400.35 1104.50 V1102.75 a1.95 1.95 0 0 1 3.9 0 V1104.50" fill="none" stroke="#c95f2b" stroke-width="1.7"/>
<text x="415.90" y="1109.80" font-family="Liberation Sans, sans-serif" font-size="15" textLength="49.00" lengthAdjust="spacing" text-anchor="start" fill="#a9b7c6" >DOWN</text>
<text transform="translate(647.70 1109.80) scale(1.1 1)" x="0" y="0" font-family="Liberation Sans, sans-serif" font-size="15" letter-spacing="0" text-anchor="end" fill="#a9b7c6" >int</text>
<circle cx="382.1" cy="1134" r="8.9" fill="#b28d42"/>
<path d="M384.20 1129.50 q-2.7 -0.7 -2.7 2.0 V1138.90 M379.30 1133.50 H384.20" fill="none" stroke="#4d3b1c" stroke-width="1.3"/>
<g transform="rotate(-40 375.10 1127.00)"><ellipse cx="375.10" cy="1127.00" rx="4.5" ry="2.9" fill="#3c3f41"/><ellipse cx="375.10" cy="1127.00" rx="3.6" ry="2.0" fill="#a2afba"/><rect x="374.50" y="1129.90" width="1.2" height="2.9" rx="0.5" fill="#a9b9c6" opacity="0.85"/></g>
<path d="M376.50 1134.50 L381.60 1139.60 L376.50 1144.70 L371.40 1139.60 Z" fill="#3c3f41"/>
<path d="M376.50 1137.20 L378.90 1139.60 L376.50 1142.00 L374.10 1139.60 Z" fill="#a07c3a" opacity="0.9"/>
<path d="M376.50 1136.35 L379.75 1139.60 L376.50 1142.85 L373.25 1139.60 Z" fill="none" stroke="#99a8b3" stroke-width="1.75"/>
<rect x="398.10" y="1133.00" width="8.1" height="6.0" fill="#c95f2b"/>
<path d="M400.35 1133.50 V1131.75 a1.95 1.95 0 0 1 3.9 0 V1133.50" fill="none" stroke="#c95f2b" stroke-width="1.7"/>
<text x="415.90" y="1138.80" font-family="Liberation Sans, sans-serif" font-size="15" textLength="36.80" lengthAdjust="spacing" text-anchor="start" fill="#a9b7c6" >STAY</text>
<text transform="translate(647.70 1138.80) scale(1.1 1)" x="0" y="0" font-family="Liberation Sans, sans-serif" font-size="15" letter-spacing="0" text-anchor="end" fill="#a9b7c6" >int</text>
<circle cx="382.1" cy="1163" r="8.9" fill="#b28d42"/>
<path d="M384.20 1158.50 q-2.7 -0.7 -2.7 2.0 V1167.90 M379.30 1162.50 H384.20" fill="none" stroke="#4d3b1c" stroke-width="1.3"/>
<g transform="rotate(-40 375.10 1156.00)"><ellipse cx="375.10" cy="1156.00" rx="4.5" ry="2.9" fill="#3c3f41"/><ellipse cx="375.10" cy="1156.00" rx="3.6" ry="2.0" fill="#a2afba"/><rect x="374.50" y="1158.90" width="1.2" height="2.9" rx="0.5" fill="#a9b9c6" opacity="0.85"/></g>
<path d="M376.50 1163.50 L381.60 1168.60 L376.50 1173.70 L371.40 1168.60 Z" fill="#3c3f41"/>
<path d="M376.50 1166.20 L378.90 1168.60 L376.50 1171.00 L374.10 1168.60 Z" fill="#a07c3a" opacity="0.9"/>
<path d="M376.50 1165.35 L379.75 1168.60 L376.50 1171.85 L373.25 1168.60 Z" fill="none" stroke="#99a8b3" stroke-width="1.75"/>
<rect x="398.10" y="1162.00" width="8.1" height="6.0" fill="#c95f2b"/>
<path d="M400.35 1162.50 V1160.75 a1.95 1.95 0 0 1 3.9 0 V1162.50" fill="none" stroke="#c95f2b" stroke-width="1.7"/>
<text x="415.90" y="1167.80" font-family="Liberation Sans, sans-serif" font-size="15" textLength="40.00" lengthAdjust="spacing" text-anchor="start" fill="#a9b7c6" >OPEN</text>
<text transform="translate(648.90 1167.80) scale(1.1 1)" x="0" y="0" font-family="Liberation Sans, sans-serif" font-size="15" letter-spacing="0" text-anchor="end" fill="#a9b7c6" >long</text>
<circle cx="382.1" cy="1191" r="8.9" fill="#b28d42"/>
<path d="M384.20 1186.50 q-2.7 -0.7 -2.7 2.0 V1195.90 M379.30 1190.50 H384.20" fill="none" stroke="#4d3b1c" stroke-width="1.3"/>
<g transform="rotate(-40 375.10 1184.00)"><ellipse cx="375.10" cy="1184.00" rx="4.5" ry="2.9" fill="#3c3f41"/><ellipse cx="375.10" cy="1184.00" rx="3.6" ry="2.0" fill="#a2afba"/><rect x="374.50" y="1186.90" width="1.2" height="2.9" rx="0.5" fill="#a9b9c6" opacity="0.85"/></g>
<path d="M376.50 1191.50 L381.60 1196.60 L376.50 1201.70 L371.40 1196.60 Z" fill="#3c3f41"/>
<path d="M376.50 1194.20 L378.90 1196.60 L376.50 1199.00 L374.10 1196.60 Z" fill="#a07c3a" opacity="0.9"/>
<path d="M376.50 1193.35 L379.75 1196.60 L376.50 1199.85 L373.25 1196.60 Z" fill="none" stroke="#99a8b3" stroke-width="1.75"/>
<rect x="398.10" y="1190.00" width="8.1" height="6.0" fill="#c95f2b"/>
<path d="M400.35 1190.50 V1188.75 a1.95 1.95 0 0 1 3.9 0 V1190.50" fill="none" stroke="#c95f2b" stroke-width="1.7"/>
<text x="415.90" y="1195.80" font-family="Liberation Sans, sans-serif" font-size="15" textLength="46.40" lengthAdjust="spacing" text-anchor="start" fill="#a9b7c6" >CLOSE</text>
<text transform="translate(648.90 1195.80) scale(1.1 1)" x="0" y="0" font-family="Liberation Sans, sans-serif" font-size="15" letter-spacing="0" text-anchor="end" fill="#a9b7c6" >long</text>
<circle cx="382.1" cy="1220" r="8.9" fill="#b28d42"/>
<path d="M384.20 1215.50 q-2.7 -0.7 -2.7 2.0 V1224.90 M379.30 1219.50 H384.20" fill="none" stroke="#4d3b1c" stroke-width="1.3"/>
<g transform="rotate(-40 375.10 1213.00)"><ellipse cx="375.10" cy="1213.00" rx="4.5" ry="2.9" fill="#3c3f41"/><ellipse cx="375.10" cy="1213.00" rx="3.6" ry="2.0" fill="#a2afba"/><rect x="374.50" y="1215.90" width="1.2" height="2.9" rx="0.5" fill="#a9b9c6" opacity="0.85"/></g>
<path d="M376.50 1220.50 L381.60 1225.60 L376.50 1230.70 L371.40 1225.60 Z" fill="#3c3f41"/>
<path d="M376.50 1223.20 L378.90 1225.60 L376.50 1228.00 L374.10 1225.60 Z" fill="#a07c3a" opacity="0.9"/>
<path d="M376.50 1222.35 L379.75 1225.60 L376.50 1228.85 L373.25 1225.60 Z" fill="none" stroke="#99a8b3" stroke-width="1.75"/>
<rect x="398.10" y="1219.00" width="8.1" height="6.0" fill="#c95f2b"/>
<path d="M400.35 1219.50 V1217.75 a1.95 1.95 0 0 1 3.9 0 V1219.50" fill="none" stroke="#c95f2b" stroke-width="1.7"/>
<text x="415.90" y="1224.80" font-family="Liberation Sans, sans-serif" font-size="15" textLength="55.00" lengthAdjust="spacing" text-anchor="start" fill="#a9b7c6" >MOVEA</text>
<text transform="translate(648.90 1224.80) scale(1.1 1)" x="0" y="0" font-family="Liberation Sans, sans-serif" font-size="15" letter-spacing="0" text-anchor="end" fill="#a9b7c6" >long</text>
<circle cx="382.1" cy="1249" r="8.9" fill="#b28d42"/>
<path d="M384.20 1244.50 q-2.7 -0.7 -2.7 2.0 V1253.90 M379.30 1248.50 H384.20" fill="none" stroke="#4d3b1c" stroke-width="1.3"/>
<g transform="rotate(-40 375.10 1242.00)"><ellipse cx="375.10" cy="1242.00" rx="4.5" ry="2.9" fill="#3c3f41"/><ellipse cx="375.10" cy="1242.00" rx="3.6" ry="2.0" fill="#a2afba"/><rect x="374.50" y="1244.90" width="1.2" height="2.9" rx="0.5" fill="#a9b9c6" opacity="0.85"/></g>
<path d="M376.50 1249.50 L381.60 1254.60 L376.50 1259.70 L371.40 1254.60 Z" fill="#3c3f41"/>
<path d="M376.50 1252.20 L378.90 1254.60 L376.50 1257.00 L374.10 1254.60 Z" fill="#a07c3a" opacity="0.9"/>
<path d="M376.50 1251.35 L379.75 1254.60 L376.50 1257.85 L373.25 1254.60 Z" fill="none" stroke="#99a8b3" stroke-width="1.75"/>
<rect x="398.10" y="1248.00" width="8.1" height="6.0" fill="#c95f2b"/>
<path d="M400.35 1248.50 V1246.75 a1.95 1.95 0 0 1 3.9 0 V1248.50" fill="none" stroke="#c95f2b" stroke-width="1.7"/>
<text x="415.90" y="1253.80" font-family="Liberation Sans, sans-serif" font-size="15" textLength="53.20" lengthAdjust="spacing" text-anchor="start" fill="#a9b7c6" >MOVEB</text>
<text transform="translate(648.90 1253.80) scale(1.1 1)" x="0" y="0" font-family="Liberation Sans, sans-serif" font-size="15" letter-spacing="0" text-anchor="end" fill="#a9b7c6" >long</text>
<circle cx="382.1" cy="1278" r="8.9" fill="#b28d42"/>
<path d="M384.20 1273.50 q-2.7 -0.7 -2.7 2.0 V1282.90 M379.30 1277.50 H384.20" fill="none" stroke="#4d3b1c" stroke-width="1.3"/>
<g transform="rotate(-40 375.10 1271.00)"><ellipse cx="375.10" cy="1271.00" rx="4.5" ry="2.9" fill="#3c3f41"/><ellipse cx="375.10" cy="1271.00" rx="3.6" ry="2.0" fill="#a2afba"/><rect x="374.50" y="1273.90" width="1.2" height="2.9" rx="0.5" fill="#a9b9c6" opacity="0.85"/></g>
<path d="M376.50 1278.50 L381.60 1283.60 L376.50 1288.70 L371.40 1283.60 Z" fill="#3c3f41"/>
<path d="M376.50 1281.20 L378.90 1283.60 L376.50 1286.00 L374.10 1283.60 Z" fill="#a07c3a" opacity="0.9"/>
<path d="M376.50 1280.35 L379.75 1283.60 L376.50 1286.85 L373.25 1283.60 Z" fill="none" stroke="#99a8b3" stroke-width="1.75"/>
<rect x="398.10" y="1277.00" width="8.1" height="6.0" fill="#c95f2b"/>
<path d="M400.35 1277.50 V1275.75 a1.95 1.95 0 0 1 3.9 0 V1277.50" fill="none" stroke="#c95f2b" stroke-width="1.7"/>
<text x="415.90" y="1282.80" font-family="Liberation Sans, sans-serif" font-size="15" textLength="54.00" lengthAdjust="spacing" text-anchor="start" fill="#a9b7c6" >MOVEC</text>
<text transform="translate(648.90 1282.80) scale(1.1 1)" x="0" y="0" font-family="Liberation Sans, sans-serif" font-size="15" letter-spacing="0" text-anchor="end" fill="#a9b7c6" >long</text>
<circle cx="382.1" cy="1308" r="8.9" fill="#b3707f"/>
<path d="M377.70 1311.40 V1305.40 M377.70 1307.40 q0.4 -2 2.4 -2 q2 0 2 2 V1311.40 M382.10 1307.40 q0.4 -2 2.4 -2 q2 0 2 2 V1311.40" fill="none" stroke="#4b2833" stroke-width="1.3"/>
<rect x="398.10" y="1306.85" width="8.1" height="6.15" fill="#589a43"/>
<path d="M396.55 1307.70 V1305.70 a1.95 1.95 0 0 1 3.9 0 V1307.10" fill="none" stroke="#589a43" stroke-width="1.45"/>
<text transform="translate(415.90 1312.80) scale(1.1 1)" x="0" y="0" font-family="Liberation Sans, sans-serif" font-size="15" textLength="207.45" lengthAdjust="spacing" text-anchor="start" fill="#a9b7c6" >Elevator(WaitQueue, String, int)</text>
<circle cx="382.1" cy="1338" r="8.9" fill="#b3707f"/>
<path d="M377.70 1341.40 V1335.40 M377.70 1337.40 q0.4 -2 2.4 -2 q2 0 2 2 V1341.40 M382.10 1337.40 q0.4 -2 2.4 -2 q2 0 2 2 V1341.40" fill="none" stroke="#4b2833" stroke-width="1.3"/>
<rect x="398.10" y="1336.85" width="8.1" height="6.15" fill="#589a43"/>
<path d="M396.55 1337.70 V1335.70 a1.95 1.95 0 0 1 3.9 0 V1337.10" fill="none" stroke="#589a43" stroke-width="1.45"/>
<text transform="translate(415.90 1342.80) scale(1.1 1)" x="0" y="0" font-family="Liberation Sans, sans-serif" font-size="15" letter-spacing="0" text-anchor="start" fill="#a9b7c6" >in(int)</text>
<text transform="translate(648.90 1342.80) scale(1.1 1)" x="0" y="0" font-family="Liberation Sans, sans-serif" font-size="15" letter-spacing="0" text-anchor="end" fill="#a9b7c6" >void</text>
<circle cx="382.1" cy="1366" r="8.9" fill="#b3707f"/>
<path d="M377.70 1369.40 V1363.40 M377.70 1365.40 q0.4 -2 2.4 -2 q2 0 2 2 V1369.40 M382.10 1365.40 q0.4 -2 2.4 -2 q2 0 2 2 V1369.40" fill="none" stroke="#4b2833" stroke-width="1.3"/>
<rect x="398.10" y="1364.85" width="8.1" height="6.15" fill="#589a43"/>
<path d="M396.55 1365.70 V1363.70 a1.95 1.95 0 0 1 3.9 0 V1365.10" fill="none" stroke="#589a43" stroke-width="1.45"/>
<text transform="translate(415.90 1370.80) scale(1.1 1)" x="0" y="0" font-family="Liberation Sans, sans-serif" font-size="15" letter-spacing="0" text-anchor="start" fill="#a9b7c6" >out(int)</text>
<text transform="translate(648.90 1370.80) scale(1.1 1)" x="0" y="0" font-family="Liberation Sans, sans-serif" font-size="15" letter-spacing="0" text-anchor="end" fill="#a9b7c6" >void</text>
<circle cx="382.1" cy="1395" r="8.9" fill="#b3707f"/>
<path d="M377.70 1398.40 V1392.40 M377.70 1394.40 q0.4 -2 2.4 -2 q2 0 2 2 V1398.40 M382.10 1394.40 q0.4 -2 2.4 -2 q2 0 2 2 V1398.40" fill="none" stroke="#4b2833" stroke-width="1.3"/>
<rect x="398.10" y="1393.85" width="8.1" height="6.15" fill="#589a43"/>
<path d="M396.55 1394.70 V1392.70 a1.95 1.95 0 0 1 3.9 0 V1394.10" fill="none" stroke="#589a43" stroke-width="1.45"/>
<text transform="translate(415.90 1399.80) scale(1.1 1)" x="0" y="0" font-family="Liberation Sans, sans-serif" font-size="15" letter-spacing="0" text-anchor="start" fill="#a9b7c6" >closeDoor()</text>
<text transform="translate(648.90 1399.80) scale(1.1 1)" x="0" y="0" font-family="Liberation Sans, sans-serif" font-size="15" letter-spacing="0" text-anchor="end" fill="#a9b7c6" >void</text>
<circle cx="382.1" cy="1424" r="8.9" fill="#b3707f"/>
<path d="M377.70 1427.40 V1421.40 M377.70 1423.40 q0.4 -2 2.4 -2 q2 0 2 2 V1427.40 M382.10 1423.40 q0.4 -2 2.4 -2 q2 0 2 2 V1427.40" fill="none" stroke="#4b2833" stroke-width="1.3"/>
<rect x="398.10" y="1422.85" width="8.1" height="6.15" fill="#589a43"/>
<path d="M396.55 1423.70 V1421.70 a1.95 1.95 0 0 1 3.9 0 V1423.10" fill="none" stroke="#589a43" stroke-width="1.45"/>
<text transform="translate(415.90 1428.80) scale(1.1 1)" x="0" y="0" font-family="Liberation Sans, sans-serif" font-size="15" letter-spacing="0" text-anchor="start" fill="#a9b7c6" >openDoor()</text>
<text transform="translate(648.90 1428.80) scale(1.1 1)" x="0" y="0" font-family="Liberation Sans, sans-serif" font-size="15" letter-spacing="0" text-anchor="end" fill="#a9b7c6" >void</text>
<circle cx="382.1" cy="1453" r="8.9" fill="#b3707f"/>
<path d="M377.70 1456.40 V1450.40 M377.70 1452.40 q0.4 -2 2.4 -2 q2 0 2 2 V1456.40 M382.10 1452.40 q0.4 -2 2.4 -2 q2 0 2 2 V1456.40" fill="none" stroke="#4b2833" stroke-width="1.3"/>
<rect x="398.10" y="1451.85" width="8.1" height="6.15" fill="#589a43"/>
<path d="M396.55 1452.70 V1450.70 a1.95 1.95 0 0 1 3.9 0 V1452.10" fill="none" stroke="#589a43" stroke-width="1.45"/>
<text transform="translate(415.90 1457.80) scale(1.1 1)" x="0" y="0" font-family="Liberation Sans, sans-serif" font-size="15" textLength="80.00" lengthAdjust="spacing" text-anchor="start" fill="#a9b7c6" >moveFloor()</text>
<text transform="translate(648.90 1457.80) scale(1.1 1)" x="0" y="0" font-family="Liberation Sans, sans-serif" font-size="15" letter-spacing="0" text-anchor="end" fill="#a9b7c6" >void</text>
<circle cx="382.1" cy="1481" r="8.9" fill="#b3707f"/>
<path d="M377.70 1484.40 V1478.40 M377.70 1480.40 q0.4 -2 2.4 -2 q2 0 2 2 V1484.40 M382.10 1480.40 q0.4 -2 2.4 -2 q2 0 2 2 V1484.40" fill="none" stroke="#4b2833" stroke-width="1.3"/>
<rect x="398.10" y="1479.85" width="8.1" height="6.15" fill="#589a43"/>
<path d="M396.55 1480.70 V1478.70 a1.95 1.95 0 0 1 3.9 0 V1480.10" fill="none" stroke="#589a43" stroke-width="1.45"/>
<text transform="translate(415.90 1485.80) scale(1.1 1)" x="0" y="0" font-family="Liberation Sans, sans-serif" font-size="15" letter-spacing="0" text-anchor="start" fill="#a9b7c6" >setStatus(int, int)</text>
<text transform="translate(648.90 1485.80) scale(1.1 1)" x="0" y="0" font-family="Liberation Sans, sans-serif" font-size="15" letter-spacing="0" text-anchor="end" fill="#a9b7c6" >void</text>
<circle cx="382.1" cy="1510" r="8.9" fill="#b3707f"/>
<path d="M377.70 1513.40 V1507.40 M377.70 1509.40 q0.4 -2 2.4 -2 q2 0 2 2 V1513.40 M382.10 1509.40 q0.4 -2 2.4 -2 q2 0 2 2 V1513.40" fill="none" stroke="#4b2833" stroke-width="1.3"/>
<rect x="398.10" y="1508.85" width="8.1" height="6.15" fill="#589a43"/>
<path d="M396.55 1509.70 V1507.70 a1.95 1.95 0 0 1 3.9 0 V1509.10" fill="none" stroke="#589a43" stroke-width="1.45"/>
<text transform="translate(415.90 1514.80) scale(1.1 1)" x="0" y="0" font-family="Liberation Sans, sans-serif" font-size="15" letter-spacing="0" text-anchor="start" fill="#a9b7c6" >pickUpA(boolean)</text>
<text transform="translate(648.90 1514.80) scale(1.1 1)" x="0" y="0" font-family="Liberation Sans, sans-serif" font-size="15" letter-spacing="0" text-anchor="end" fill="#a9b7c6" >void</text>
<circle cx="382.1" cy="1539" r="8.9" fill="#b3707f"/>
<path d="M377.70 1542.40 V1536.40 M377.70 1538.40 q0.4 -2 2.4 -2 q2 0 2 2 V1542.40 M382.10 1538.40 q0.4 -2 2.4 -2 q2 0 2 2 V1542.40" fill="none" stroke="#4b2833" stroke-width="1.3"/>
<rect x="398.10" y="1537.85" width="8.1" height="6.15" fill="#589a43"/>
<path d="M396.55 1538.70 V1536.70 a1.95 1.95 0 0 1 3.9 0 V1538.10" fill="none" stroke="#589a43" stroke-width="1.45"/>
<text transform="translate(415.90 1543.80) scale(1.1 1)" x="0" y="0" font-family="Liberation Sans, sans-serif" font-size="15" letter-spacing="0" text-anchor="start" fill="#a9b7c6" >pickUpB(boolean)</text>
<text transform="translate(648.90 1543.80) scale(1.1 1)" x="0" y="0" font-family="Liberation Sans, sans-serif" font-size="15" letter-spacing="0" text-anchor="end" fill="#a9b7c6" >void</text>
<circle cx="382.1" cy="1568" r="8.9" fill="#b3707f"/>
<path d="M377.70 1571.40 V1565.40 M377.70 1567.40 q0.4 -2 2.4 -2 q2 0 2 2 V1571.40 M382.10 1567.40 q0.4 -2 2.4 -2 q2 0 2 2 V1571.40" fill="none" stroke="#4b2833" stroke-width="1.3"/>
<rect x="398.10" y="1566.85" width="8.1" height="6.15" fill="#589a43"/>
<path d="M396.55 1567.70 V1565.70 a1.95 1.95 0 0 1 3.9 0 V1567.10" fill="none" stroke="#589a43" stroke-width="1.45"/>
<text transform="translate(415.90 1572.80) scale(1.1 1)" x="0" y="0" font-family="Liberation Sans, sans-serif" font-size="15" letter-spacing="0" text-anchor="start" fill="#a9b7c6" >pickUpC(boolean)</text>
<text transform="translate(648.90 1572.80) scale(1.1 1)" x="0" y="0" font-family="Liberation Sans, sans-serif" font-size="15" letter-spacing="0" text-anchor="end" fill="#a9b7c6" >void</text>
<circle cx="382.1" cy="1596" r="8.9" fill="#b3707f"/>
<path d="M377.70 1599.40 V1593.40 M377.70 1595.40 q0.4 -2 2.4 -2 q2 0 2 2 V1599.40 M382.10 1595.40 q0.4 -2 2.4 -2 q2 0 2 2 V1599.40" fill="none" stroke="#4b2833" stroke-width="1.3"/>
<rect x="398.10" y="1594.85" width="8.1" height="6.15" fill="#589a43"/>
<path d="M396.55 1595.70 V1593.70 a1.95 1.95 0 0 1 3.9 0 V1595.10" fill="none" stroke="#589a43" stroke-width="1.45"/>
<text transform="translate(415.90 1600.80) scale(1.1 1)" x="0" y="0" font-family="Liberation Sans, sans-serif" font-size="15" letter-spacing="0" text-anchor="start" fill="#a9b7c6" >run(Perrequest)</text>
<text transform="translate(648.90 1600.80) scale(1.1 1)" x="0" y="0" font-family="Liberation Sans, sans-serif" font-size="15" letter-spacing="0" text-anchor="end" fill="#a9b7c6" >void</text>
<circle cx="382.1" cy="1625" r="8.9" fill="#b3707f"/>
<path d="M377.70 1628.40 V1622.40 M377.70 1624.40 q0.4 -2 2.4 -2 q2 0 2 2 V1628.40 M382.10 1624.40 q0.4 -2 2.4 -2 q2 0 2 2 V1628.40" fill="none" stroke="#4b2833" stroke-width="1.3"/>
<rect x="398.10" y="1623.85" width="8.1" height="6.15" fill="#589a43"/>
<path d="M396.55 1624.70 V1622.70 a1.95 1.95 0 0 1 3.9 0 V1624.10" fill="none" stroke="#589a43" stroke-width="1.45"/>
<text transform="translate(415.90 1629.80) scale(1.1 1)" x="0" y="0" font-family="Liberation Sans, sans-serif" font-size="15" letter-spacing="0" text-anchor="start" fill="#a9b7c6" >run()</text>
<text transform="translate(648.90 1629.80) scale(1.1 1)" x="0" y="0" font-family="Liberation Sans, sans-serif" font-size="15" letter-spacing="0" text-anchor="end" fill="#a9b7c6" >void</text>
<rect x="208.9" y="1716.8" width="420.10" height="242.20" fill="#3c3f41"/>
<rect x="208.9" y="1716.8" width="420.10" height="35" fill="#3c3c3c"/>
<line x1="209.5" x2="628.4" y1="1751.80" y2="1751.80" stroke="#757575" stroke-width="1.3"/>
<line x1="209.5" x2="628.4" y1="1869.50" y2="1869.50" stroke="#757575" stroke-width="1.3"/>
<line x1="209.5" x2="628.4" y1="1899.50" y2="1899.50" stroke="#757575" stroke-width="1.3"/>
<path d="M629.00 1716.20 V1959.00 H208.30" fill="none" stroke="#606060" stroke-width="2.0"/>
<path d="M208.90 1960.00 V1716.80 H630.00" fill="none" stroke="#7d7d7d" stroke-width="1.3"/>
<circle cx="221.5" cy="1735.1" r="8.9" fill="#3b88a4"/>
<path d="M224.25 1732.95 A3.35 3.35 0 1 0 224.25 1737.65" fill="none" stroke="#27495a" stroke-width="1.3"/>
<rect x="237.50" y="1733.95" width="8.1" height="6.15" fill="#589a43"/>
<path d="M235.95 1734.80 V1732.80 a1.95 1.95 0 0 1 3.9 0 V1734.20" fill="none" stroke="#589a43" stroke-width="1.45"/>
<text x="259.70" y="1740.20" font-family="Liberation Mono, monospace" font-size="16.6" fill="#a9b7c6" xml:space="preserve">InputThread</text>
<circle cx="224.5" cy="1769" r="8.9" fill="#b28d42"/>
<path d="M226.60 1764.50 q-2.7 -0.7 -2.7 2.0 V1773.90 M221.70 1768.50 H226.60" fill="none" stroke="#4d3b1c" stroke-width="1.3"/>
<path d="M218.90 1769.50 L224.00 1774.60 L218.90 1779.70 L213.80 1774.60 Z" fill="#3c3f41"/>
<path d="M218.90 1772.20 L221.30 1774.60 L218.90 1777.00 L216.50 1774.60 Z" fill="#a07c3a" opacity="0.9"/>
<path d="M218.90 1771.35 L222.15 1774.60 L218.90 1777.85 L215.65 1774.60 Z" fill="none" stroke="#99a8b3" stroke-width="1.75"/>
<rect x="240.50" y="1768.00" width="8.1" height="6.0" fill="#c95f2b"/>
<path d="M242.75 1768.50 V1766.75 a1.95 1.95 0 0 1 3.9 0 V1768.50" fill="none" stroke="#c95f2b" stroke-width="1.7"/>
<text transform="translate(258.30 1773.80) scale(1.1 1)" x="0" y="0" font-family="Liberation Sans, sans-serif" font-size="15" letter-spacing="0" text-anchor="start" fill="#a9b7c6" >arrivePattern</text>
<text transform="translate(622.80 1773.80) scale(1.1 1)" x="0" y="0" font-family="Liberation Sans, sans-serif" font-size="15" letter-spacing="0" text-anchor="end" fill="#a9b7c6" >String</text>
<circle cx="224.5" cy="1798" r="8.9" fill="#b28d42"/>
<path d="M226.60 1793.50 q-2.7 -0.7 -2.7 2.0 V1802.90 M221.70 1797.50 H226.60" fill="none" stroke="#4d3b1c" stroke-width="1.3"/>
<g transform="rotate(-40 217.50 1791.00)"><ellipse cx="217.50" cy="1791.00" rx="4.5" ry="2.9" fill="#3c3f41"/><ellipse cx="217.50" cy="1791.00" rx="3.6" ry="2.0" fill="#a2afba"/><rect x="216.90" y="1793.90" width="1.2" height="2.9" rx="0.5" fill="#a9b9c6" opacity="0.85"/></g>
<rect x="240.50" y="1797.00" width="8.1" height="6.0" fill="#c95f2b"/>
<path d="M242.75 1797.50 V1795.75 a1.95 1.95 0 0 1 3.9 0 V1797.50" fill="none" stroke="#c95f2b" stroke-width="1.7"/>
<text transform="translate(258.30 1802.80) scale(1.1 1)" x="0" y="0" font-family="Liberation Sans, sans-serif" font-size="15" letter-spacing="0" text-anchor="start" fill="#a9b7c6" >waitQueueA</text>
<text transform="translate(622.80 1802.80) scale(1.1 1)" x="0" y="0" font-family="Liberation Sans, sans-serif" font-size="15" letter-spacing="0" text-anchor="end" fill="#a9b7c6" >WaitQueue</text>
<circle cx="224.5" cy="1826" r="8.9" fill="#b28d42"/>
<path d="M226.60 1821.50 q-2.7 -0.7 -2.7 2.0 V1830.90 M221.70 1825.50 H226.60" fill="none" stroke="#4d3b1c" stroke-width="1.3"/>
<g transform="rotate(-40 217.50 1819.00)"><ellipse cx="217.50" cy="1819.00" rx="4.5" ry="2.9" fill="#3c3f41"/><ellipse cx="217.50" cy="1819.00" rx="3.6" ry="2.0" fill="#a2afba"/><rect x="216.90" y="1821.90" width="1.2" height="2.9" rx="0.5" fill="#a9b9c6" opacity="0.85"/></g>
<rect x="240.50" y="1825.00" width="8.1" height="6.0" fill="#c95f2b"/>
<path d="M242.75 1825.50 V1823.75 a1.95 1.95 0 0 1 3.9 0 V1825.50" fill="none" stroke="#c95f2b" stroke-width="1.7"/>
<text transform="translate(258.30 1830.80) scale(1.1 1)" x="0" y="0" font-family="Liberation Sans, sans-serif" font-size="15" letter-spacing="0" text-anchor="start" fill="#a9b7c6" >waitQueueB</text>
<text transform="translate(622.80 1830.80) scale(1.1 1)" x="0" y="0" font-family="Liberation Sans, sans-serif" font-size="15" letter-spacing="0" text-anchor="end" fill="#a9b7c6" >WaitQueue</text>
<circle cx="224.5" cy="1855" r="8.9" fill="#b28d42"/>
<path d="M226.60 1850.50 q-2.7 -0.7 -2.7 2.0 V1859.90 M221.70 1854.50 H226.60" fill="none" stroke="#4d3b1c" stroke-width="1.3"/>
<g transform="rotate(-40 217.50 1848.00)"><ellipse cx="217.50" cy="1848.00" rx="4.5" ry="2.9" fill="#3c3f41"/><ellipse cx="217.50" cy="1848.00" rx="3.6" ry="2.0" fill="#a2afba"/><rect x="216.90" y="1850.90" width="1.2" height="2.9" rx="0.5" fill="#a9b9c6" opacity="0.85"/></g>
<rect x="240.50" y="1854.00" width="8.1" height="6.0" fill="#c95f2b"/>
<path d="M242.75 1854.50 V1852.75 a1.95 1.95 0 0 1 3.9 0 V1854.50" fill="none" stroke="#c95f2b" stroke-width="1.7"/>
<text transform="translate(258.30 1859.80) scale(1.1 1)" x="0" y="0" font-family="Liberation Sans, sans-serif" font-size="15" letter-spacing="0" text-anchor="start" fill="#a9b7c6" >waitQueueC</text>
<text transform="translate(622.80 1859.80) scale(1.1 1)" x="0" y="0" font-family="Liberation Sans, sans-serif" font-size="15" letter-spacing="0" text-anchor="end" fill="#a9b7c6" >WaitQueue</text>
<circle cx="224.5" cy="1885" r="8.9" fill="#b3707f"/>
<path d="M220.10 1888.40 V1882.40 M220.10 1884.40 q0.4 -2 2.4 -2 q2 0 2 2 V1888.40 M224.50 1884.40 q0.4 -2 2.4 -2 q2 0 2 2 V1888.40" fill="none" stroke="#4b2833" stroke-width="1.3"/>
<rect x="240.50" y="1883.85" width="8.1" height="6.15" fill="#589a43"/>
<path d="M238.95 1884.70 V1882.70 a1.95 1.95 0 0 1 3.9 0 V1884.10" fill="none" stroke="#589a43" stroke-width="1.45"/>
<text transform="translate(258.30 1889.80) scale(1.1 1)" x="0" y="0" font-family="Liberation Sans, sans-serif" font-size="15" textLength="324.55" lengthAdjust="spacing" text-anchor="start" fill="#a9b7c6" >InputThread(WaitQueue, WaitQueue, WaitQueue)</text>
<circle cx="224.5" cy="1915" r="8.9" fill="#b3707f"/>
<path d="M220.10 1918.40 V1912.40 M220.10 1914.40 q0.4 -2 2.4 -2 q2 0 2 2 V1918.40 M224.50 1914.40 q0.4 -2 2.4 -2 q2 0 2 2 V1918.40" fill="none" stroke="#4b2833" stroke-width="1.3"/>
<rect x="240.50" y="1913.85" width="8.1" height="6.15" fill="#589a43"/>
<path d="M238.95 1914.70 V1912.70 a1.95 1.95 0 0 1 3.9 0 V1914.10" fill="none" stroke="#589a43" stroke-width="1.45"/>
<text transform="translate(258.30 1919.80) scale(1.1 1)" x="0" y="0" font-family="Liberation Sans, sans-serif" font-size="15" letter-spacing="0" text-anchor="start" fill="#a9b7c6" >addElevator(Request)</text>
<text transform="translate(621.40 1919.80) scale(1.1 1)" x="0" y="0" font-family="Liberation Sans, sans-serif" font-size="15" letter-spacing="0" text-anchor="end" fill="#a9b7c6" >void</text>
<circle cx="224.5" cy="1944" r="8.9" fill="#b3707f"/>
<path d="M220.10 1947.40 V1941.40 M220.10 1943.40 q0.4 -2 2.4 -2 q2 0 2 2 V1947.40 M224.50 1943.40 q0.4 -2 2.4 -2 q2 0 2 2 V1947.40" fill="none" stroke="#4b2833" stroke-width="1.3"/>
<rect x="240.50" y="1942.85" width="8.1" height="6.15" fill="#589a43"/>
<path d="M238.95 1943.70 V1941.70 a1.95 1.95 0 0 1 3.9 0 V1943.10" fill="none" stroke="#589a43" stroke-width="1.45"/>
<text transform="translate(258.30 1948.80) scale(1.1 1)" x="0" y="0" font-family="Liberation Sans, sans-serif" font-size="15" letter-spacing="0" text-anchor="start" fill="#a9b7c6" >run()</text>
<text transform="translate(621.40 1948.80) scale(1.1 1)" x="0" y="0" font-family="Liberation Sans, sans-serif" font-size="15" letter-spacing="0" text-anchor="end" fill="#a9b7c6" >void</text>
<rect x="97.7" y="2022.7" width="195.30" height="67.30" fill="#3c3f41"/>
<rect x="97.7" y="2022.7" width="195.30" height="35" fill="#3c3c3c"/>
<line x1="98.3" x2="292.4" y1="2057.70" y2="2057.70" stroke="#757575" stroke-width="1.3"/>
<path d="M293.00 2022.10 V2090.00 H97.10" fill="none" stroke="#606060" stroke-width="2.0"/>
<path d="M97.70 2091.00 V2022.70 H294.00" fill="none" stroke="#7d7d7d" stroke-width="1.3"/>
<circle cx="111.1" cy="2041.0" r="8.9" fill="#3b88a4"/>
<path d="M113.85 2038.85 A3.35 3.35 0 1 0 113.85 2043.55" fill="none" stroke="#27495a" stroke-width="1.3"/>
<path d="M114.10 2030.40 L122.30 2035.40 L114.10 2040.10 Z" fill="#3c3c3c" opacity="0.55"/>
<path d="M114.80 2031.20 L121.20 2035.40 L114.80 2039.30 Z" fill="#5fb441"/>
<circle cx="131.0" cy="2041.0" r="2.15" fill="none" stroke="#9aa7b0" stroke-width="2.0"/>
<text x="148.50" y="2046.10" font-family="Liberation Mono, monospace" font-size="16.6" fill="#a9b7c6" xml:space="preserve">MainClass</text>
<circle cx="113.3" cy="2075" r="8.9" fill="#b3707f"/>
<path d="M108.90 2078.40 V2072.40 M108.90 2074.40 q0.4 -2 2.4 -2 q2 0 2 2 V2078.40 M113.30 2074.40 q0.4 -2 2.4 -2 q2 0 2 2 V2078.40" fill="none" stroke="#4b2833" stroke-width="1.3"/>
<path d="M107.70 2075.50 L112.80 2080.60 L107.70 2085.70 L102.60 2080.60 Z" fill="#3c3f41"/>
<path d="M107.70 2078.20 L110.10 2080.60 L107.70 2083.00 L105.30 2080.60 Z" fill="#a0626f" opacity="0.9"/>
<path d="M107.70 2077.35 L110.95 2080.60 L107.70 2083.85 L104.45 2080.60 Z" fill="none" stroke="#99a8b3" stroke-width="1.75"/>
<rect x="129.30" y="2073.85" width="8.1" height="6.15" fill="#589a43"/>
<path d="M127.75 2074.70 V2072.70 a1.95 1.95 0 0 1 3.9 0 V2074.10" fill="none" stroke="#589a43" stroke-width="1.45"/>
<text transform="translate(147.10 2079.80) scale(1.1 1)" x="0" y="0" font-family="Liberation Sans, sans-serif" font-size="15" letter-spacing="0" text-anchor="start" fill="#a9b7c6" >main(String[])</text>
<text transform="translate(285.40 2079.80) scale(1.1 1)" x="0" y="0" font-family="Liberation Sans, sans-serif" font-size="15" letter-spacing="0" text-anchor="end" fill="#a9b7c6" >void</text>
<path d="M313.50 268.30 L313.50 306.30 L85.50 306.30 L85.50 1691.00 L238.30 1691.00 L238.30 1716.80" fill="none" stroke="#c9c9c9" stroke-width="1.25" stroke-dasharray="7.5 2.5"/>
<path d="M307.20 278.50 L313.50 268.30 L319.80 278.50" fill="none" stroke="#c9c9c9" stroke-width="1.15" stroke-linejoin="bevel"/>
<path d="M350.80 268.30 L350.80 318.60 L192.50 318.60 L192.50 344.40" fill="none" stroke="#c9c9c9" stroke-width="1.25" stroke-dasharray="7.5 2.5"/>
<path d="M344.50 278.50 L350.80 268.30 L357.10 278.50" fill="none" stroke="#c9c9c9" stroke-width="1.15" stroke-linejoin="bevel"/>
<path d="M388.30 268.30 L388.30 318.60 L379.50 318.60 L379.50 328.00" fill="none" stroke="#c9c9c9" stroke-width="1.25"/>
<path d="M382.00 278.50 L388.30 268.30 L394.60 278.50" fill="none" stroke="#c9c9c9" stroke-width="1.15" stroke-linejoin="bevel"/>
<path d="M379.50 327.00 L385.90 335.50 L379.50 344.00 L373.10 335.50 Z" fill="#c2c2c2"/>
<path d="M425.80 268.30 L425.80 318.60 L486.70 318.60 L486.70 711.20 L511.20 711.20 L511.20 720.00" fill="none" stroke="#c9c9c9" stroke-width="1.25"/>
<path d="M419.50 278.50 L425.80 268.30 L432.10 278.50" fill="none" stroke="#c9c9c9" stroke-width="1.15" stroke-linejoin="bevel"/>
<path d="M511.20 719.20 L517.60 727.70 L511.20 736.20 L504.80 727.70 Z" fill="#c2c2c2"/>
<path d="M463.30 268.30 L463.30 306.00 L524.70 306.00 L524.70 711.20 L569.60 711.20 L569.60 736.80" fill="none" stroke="#c9c9c9" stroke-width="1.25" stroke-dasharray="7.5 2.5"/>
<path d="M457.00 278.50 L463.30 268.30 L469.60 278.50" fill="none" stroke="#c9c9c9" stroke-width="1.15" stroke-linejoin="bevel"/>
<path d="M500.80 268.30 L500.80 293.40 L732.50 293.40 L732.50 1691.00 L599.50 1691.00 L599.50 1716.80" fill="none" stroke="#c9c9c9" stroke-width="1.25" stroke-dasharray="7.5 2.5"/>
<path d="M494.50 278.50 L500.80 268.30 L507.10 278.50" fill="none" stroke="#c9c9c9" stroke-width="1.15" stroke-linejoin="bevel"/>
<path d="M129.50 673.30 L129.50 698.60 L43.40 698.60 L43.40 1997.30 L121.50 1997.30 L121.50 2022.70" fill="none" stroke="#c9c9c9" stroke-width="1.25" stroke-dasharray="7.5 2.5"/>
<path d="M123.20 683.50 L129.50 673.30 L135.80 683.50" fill="none" stroke="#c9c9c9" stroke-width="1.15" stroke-linejoin="bevel"/>
<path d="M193.00 673.30 L193.00 711.50 L56.50 711.50 L56.50 1985.20 L170.60 1985.20 L170.60 2022.70" fill="none" stroke="#c9c9c9" stroke-width="1.25" stroke-dasharray="7.5 2.5"/>
<path d="M186.70 683.50 L193.00 673.30 L199.30 683.50" fill="none" stroke="#c9c9c9" stroke-width="1.15" stroke-linejoin="bevel"/>
<path d="M254.30 673.30 L254.30 711.20 L279.50 711.20 L279.50 1691.00 L298.30 1691.00 L298.30 1700.00" fill="none" stroke="#c9c9c9" stroke-width="1.25"/>
<path d="M248.00 683.50 L254.30 673.30 L260.60 683.50" fill="none" stroke="#c9c9c9" stroke-width="1.15" stroke-linejoin="bevel"/>
<path d="M298.30 1699.40 L304.70 1707.90 L298.30 1716.40 L291.90 1707.90 Z" fill="#c2c2c2"/>
<path d="M317.60 673.30 L317.60 711.20 L292.50 711.20 L292.50 1678.30 L358.80 1678.30 L358.80 1716.80" fill="none" stroke="#c9c9c9" stroke-width="1.25" stroke-dasharray="7.5 2.5"/>
<path d="M311.30 683.50 L317.60 673.30 L323.90 683.50" fill="none" stroke="#c9c9c9" stroke-width="1.15" stroke-linejoin="bevel"/>
<path d="M379.40 673.30 L379.40 711.20 L394.70 711.20 L394.70 720.00" fill="none" stroke="#c9c9c9" stroke-width="1.25"/>
<path d="M373.10 683.50 L379.40 673.30 L385.70 683.50" fill="none" stroke="#c9c9c9" stroke-width="1.15" stroke-linejoin="bevel"/>
<path d="M394.70 719.20 L401.10 727.70 L394.70 736.20 L388.30 727.70 Z" fill="#c2c2c2"/>
<path d="M442.30 673.30 L442.30 711.20 L452.40 711.20 L452.40 736.80" fill="none" stroke="#c9c9c9" stroke-width="1.25" stroke-dasharray="7.5 2.5"/>
<path d="M436.00 683.50 L442.30 673.30 L448.60 683.50" fill="none" stroke="#c9c9c9" stroke-width="1.15" stroke-linejoin="bevel"/>
<path d="M614.60 557.00 L614.60 711.20 L627.30 711.20 L627.30 736.80" fill="none" stroke="#5c9a4c" stroke-width="1.25" stroke-dasharray="7.5 2.5"/>
<path d="M614.60 543.20 L622.10 557.80 L607.10 557.80 Z" fill="#5f9950"/>
<path d="M684.60 557.00 L684.60 1678.50 L539.70 1678.50 L539.70 1716.80" fill="none" stroke="#5c9a4c" stroke-width="1.25" stroke-dasharray="7.5 2.5"/>
<path d="M684.60 543.20 L692.10 557.80 L677.10 557.80 Z" fill="#5f9950"/>
<path d="M669.60 164.40 L669.60 318.50 L649.70 318.50 L649.70 474.80" fill="none" stroke="#a39914" stroke-width="1.1" stroke-dasharray="1.9 3.1"/>
<path d="M438.70 1641.05 L438.70 1691.00 L419.50 1691.00 L419.50 1716.80" fill="none" stroke="#c9c9c9" stroke-width="1.25" stroke-dasharray="7.5 2.5"/>
<path d="M432.40 1651.25 L438.70 1641.05 L445.00 1651.25" fill="none" stroke="#c9c9c9" stroke-width="1.15" stroke-linejoin="bevel"/>
<path d="M584.30 1641.05 L584.30 1666.00 L479.30 1666.00 L479.30 1716.80" fill="none" stroke="#c9c9c9" stroke-width="1.25" stroke-dasharray="7.5 2.5"/>
<path d="M578.00 1651.25 L584.30 1641.05 L590.60 1651.25" fill="none" stroke="#c9c9c9" stroke-width="1.15" stroke-linejoin="bevel"/>
<path d="M313.70 1959.30 L313.70 1985.30 L219.40 1985.30 L219.40 2022.70" fill="none" stroke="#c9c9c9" stroke-width="1.25" stroke-dasharray="7.5 2.5"/>
<path d="M307.40 1969.50 L313.70 1959.30 L320.00 1969.50" fill="none" stroke="#c9c9c9" stroke-width="1.15" stroke-linejoin="bevel"/>
<path d="M524.50 1959.30 L524.50 1997.50 L268.10 1997.50 L268.10 2022.70" fill="none" stroke="#c9c9c9" stroke-width="1.25" stroke-dasharray="7.5 2.5"/>
<path d="M518.20 1969.50 L524.50 1959.30 L530.80 1969.50" fill="none" stroke="#c9c9c9" stroke-width="1.15" stroke-linejoin="bevel"/>
<rect x="357.9" y="729.0" width="6.5" height="6.3" fill="#c6c6c6"/>
<rect x="357.9" y="1186.2" width="6.5" height="6.3" fill="#c6c6c6"/>
<rect x="357.9" y="1643.9" width="6.5" height="6.3" fill="#c6c6c6"/>
<rect x="509.2" y="729.0" width="6.5" height="6.3" fill="#c6c6c6"/>
<rect x="509.2" y="1643.9" width="6.5" height="6.3" fill="#c6c6c6"/>
<rect x="659.3" y="729.0" width="6.5" height="6.3" fill="#c6c6c6"/>
<rect x="659.3" y="1186.2" width="6.5" height="6.3" fill="#c6c6c6"/>
<rect x="659.3" y="1643.9" width="6.5" height="6.3" fill="#c6c6c6"/>
<text x="379.30" y="297.50" font-family="Liberation Sans, sans-serif" font-size="15" letter-spacing="0" text-anchor="middle" fill="#a3b1c0" >*</text>
<text x="417.50" y="297.50" font-family="Liberation Sans, sans-serif" font-size="15" letter-spacing="0" text-anchor="middle" fill="#a3b1c0" >*</text>
<path d="M367.40 322.70 L370.60 320.00 V330.60" fill="none" stroke="#a3b1c0" stroke-width="1.2" stroke-linejoin="miter"/>
<path d="M242.80 696.10 L246.00 693.40 V704.00" fill="none" stroke="#a3b1c0" stroke-width="1.2" stroke-linejoin="miter"/>
<path d="M367.10 696.10 L370.30 693.40 V704.00" fill="none" stroke="#a3b1c0" stroke-width="1.2" stroke-linejoin="miter"/>
<path d="M382.20 716.40 L385.40 713.70 V724.30" fill="none" stroke="#a3b1c0" stroke-width="1.2" stroke-linejoin="miter"/>
<path d="M498.20 716.40 L501.40 713.70 V724.30" fill="none" stroke="#a3b1c0" stroke-width="1.2" stroke-linejoin="miter"/>
<path d="M286.20 1695.90 L289.40 1693.20 V1703.80" fill="none" stroke="#a3b1c0" stroke-width="1.2" stroke-linejoin="miter"/>
<text x="703.10" y="999.80" font-family="Liberation Sans, sans-serif" font-size="15.2" textLength="56.40" lengthAdjust="spacing" text-anchor="start" fill="#a3b1c0" >«create»</text>
<text x="28.30" y="1354.50" font-family="Liberation Sans, sans-serif" font-size="15.2" textLength="56.40" lengthAdjust="spacing" text-anchor="start" fill="#a3b1c0" >«create»</text>
<text x="409.30" y="1679.30" font-family="Liberation Sans, sans-serif" font-size="15.2" textLength="56.40" lengthAdjust="spacing" text-anchor="start" fill="#a3b1c0" >«create»</text>
<text x="236.10" y="1993.30" font-family="Liberation Sans, sans-serif" font-size="15.2" textLength="56.40" lengthAdjust="spacing" text-anchor="start" fill="#a3b1c0" >«create»</text>
<text x="13.20" y="2101.00" font-family="Liberation Sans, sans-serif" font-size="14.2" textLength="116.80" lengthAdjust="spacing" text-anchor="start" fill="#5e5e5e" >Powered by yFiles</text>
</svg>
</body></html>
